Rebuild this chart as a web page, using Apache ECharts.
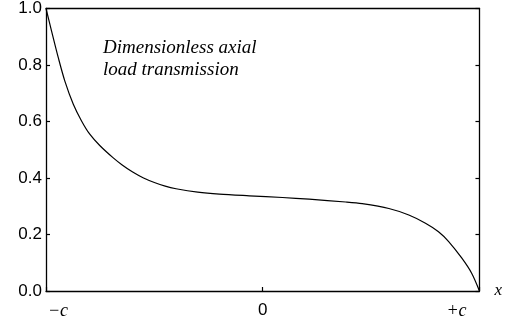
<!DOCTYPE html>
<html>
<head>
<meta charset="utf-8">
<script src="https://cdn.jsdelivr.net/npm/echarts@6/dist/echarts.min.js"></script>
<style>html,body{margin:0;padding:0;background:#fff}#c{width:505px;height:324px}</style>
</head>
<body>
<div id="c"></div>
<script>
// position along the member, -c .. +c mapped to -1 .. 1
var xPos = [-1, -0.974, -0.943, -0.913, -0.874, -0.836, -0.798, -0.752, -0.691, -0.65, -0.6, -0.55, -0.5, -0.45, -0.4, -0.3, -0.2, -0.062, 0.091, 0.214, 0.383, 0.459, 0.582, 0.674, 0.751, 0.811, 0.857, 0.918, 0.964, 1.0];
// dimensionless axial load transmission
var loadVals = [1.0, 0.919, 0.825, 0.743, 0.661, 0.602, 0.555, 0.515, 0.472, 0.447, 0.421, 0.4, 0.384, 0.371, 0.362, 0.35, 0.343, 0.337, 0.331, 0.325, 0.315, 0.309, 0.292, 0.269, 0.24, 0.21, 0.176, 0.117, 0.063, 0.0];
var xTickLabels = {'-1': '{l|\u2212c}', '0': '0', '1': '{r|+c}'};
var yTicks = [0, 0.2, 0.4, 0.6, 0.8, 1.0];
var annotation = ['Dimensionless axial', 'load transmission'];

var data = xPos.map(function (x, i) { return [x, loadVals[i]]; });
var chart = echarts.init(document.getElementById('c'), null, {renderer: 'canvas'});
var axisLine = {show: true, onZero: false, lineStyle: {color: '#000', width: 1.3}};
chart.setOption({
  animation: false,
  backgroundColor: '#fff',
  grid: {left: 46, right: 24, top: 7, bottom: 33, containLabel: false},
  xAxis: [{
    type: 'value', min: -1, max: 1, interval: 1, position: 'bottom',
    name: 'x', nameLocation: 'end', nameGap: 15,
    nameTextStyle: {fontFamily: 'Liberation Serif', fontStyle: 'italic', fontSize: 17, color: '#000', verticalAlign: 'middle', padding: [0, 0, 6, 0]},
    axisLine: axisLine,
    axisTick: {show: true, inside: true, length: 4, lineStyle: {color: '#000', width: 1.2}},
    splitLine: {show: false},
    axisLabel: {
      margin: 11, color: '#000', fontFamily: 'Liberation Sans', fontSize: 17,
      formatter: function (v) { return xTickLabels[String(Math.round(v))]; },
      rich: {
        l: {fontFamily: 'Liberation Serif', fontStyle: 'italic', fontSize: 18, color: '#000', padding: [0, 0, 0, 24]},
        r: {fontFamily: 'Liberation Serif', fontStyle: 'italic', fontSize: 18, color: '#000', padding: [0, 46, 0, 0]}
      }
    }
  }, {
    type: 'value', min: -1, max: 1, interval: 1, position: 'top',
    axisLine: axisLine, axisTick: {show: false}, axisLabel: {show: false}, splitLine: {show: false}
  }],
  yAxis: [{
    type: 'value', min: 0, max: 1, interval: 0.2, position: 'left',
    axisLine: axisLine,
    axisTick: {show: true, inside: true, length: 4, lineStyle: {color: '#000', width: 1.2}},
    splitLine: {show: false},
    axisLabel: {margin: 4, color: '#000', fontFamily: 'Liberation Sans', fontSize: 17,
      formatter: function (v) { return v.toFixed(1); }}
  }, {
    type: 'value', min: 0, max: 1, interval: 0.2, position: 'right',
    axisLine: axisLine,
    axisTick: {show: true, inside: true, length: 4, lineStyle: {color: '#000', width: 1.2}},
    axisLabel: {show: false}, splitLine: {show: false}
  }],
  graphic: [{
    type: 'text', left: 103, top: 37,
    style: {text: annotation.join('\n'), fill: '#000', font: 'italic 19px "Liberation Serif"', lineHeight: 22}
  }],
  series: [{
    type: 'line', data: data, smooth: 0.3, showSymbol: false,
    lineStyle: {color: '#000', width: 1.2}
  }]
});
</script>
</body>
</html>
